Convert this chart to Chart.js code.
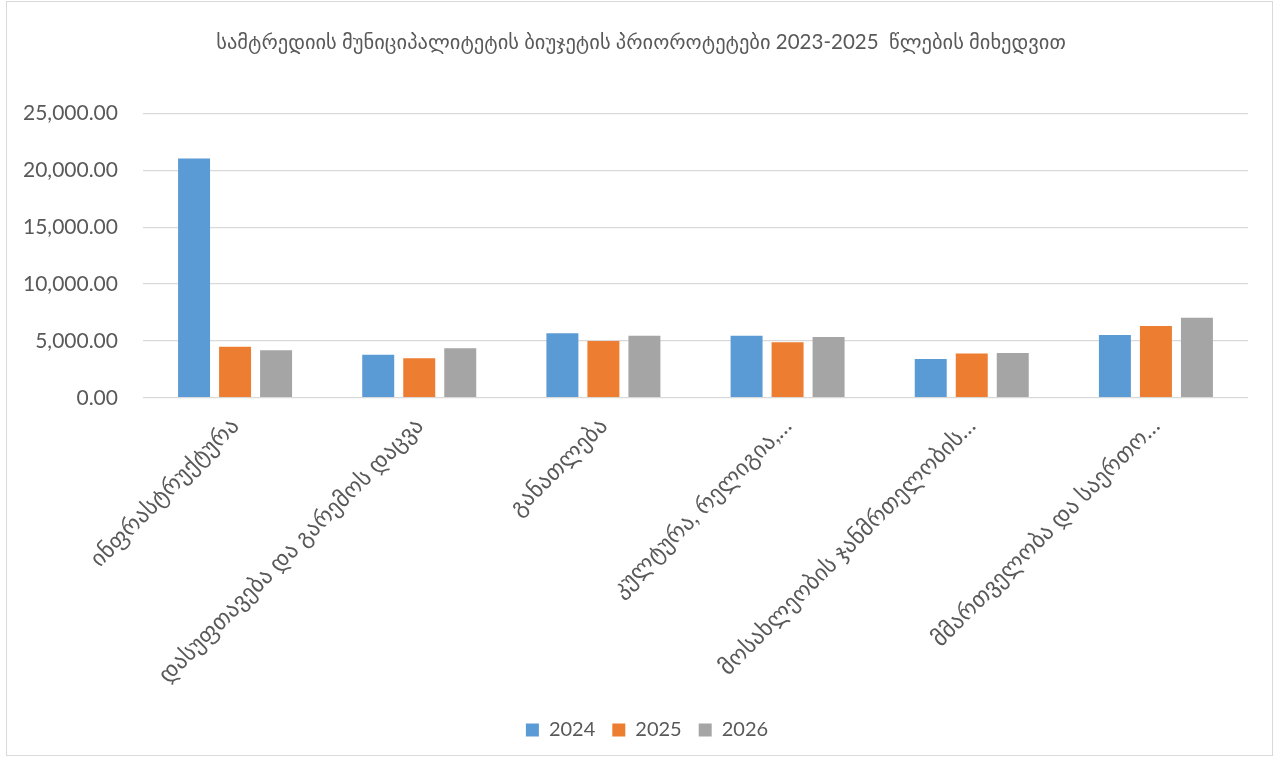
<!DOCTYPE html>
<html>
<head>
<meta charset="utf-8">
<script src="https://cdn.jsdelivr.net/npm/chart.js"></script>
<style>
  html, body { margin: 0; padding: 0; background: #ffffff; }
  #wrap { position: relative; width: 1280px; height: 760px; overflow: hidden; background: #fff; }
  #frame { position: absolute; left: 6px; top: 1px; width: 1267px; height: 755px; border: 1px solid #d9d9d9; box-sizing: border-box; }
  canvas { position: absolute; left: 0; top: 0; }
</style>
</head>
<body>
<div id="wrap">
  <div id="frame"></div>
  <canvas id="c" width="1280" height="760"></canvas>
</div>
<script>
const titleText = 'სამტრედიის მუნიციპალიტეტის ბიუჯეტის პრიოროტეტები 2023-2025  წლების მიხედვით';
const categories = [
  'ინფრასტრუქტურა',
  'დასუფთავება და გარემოს დაცვა',
  'განათლება',
  'კულტურა, რელიგია,…',
  'მოსახლეობის ჯანმრთელობის…',
  'მმართველობა და საერთო…'
];
const seriesNames = ['2024', '2025', '2026'];
const values2024 = [21050, 3790, 5680, 5460, 3400, 5520];
const values2025 = [4480, 3470, 4990, 4880, 3890, 6320];
const values2026 = [4190, 4360, 5460, 5340, 3930, 7050];
const yTicks = [0, 5000, 10000, 15000, 20000, 25000];
const colors = ['#5B9BD5', '#ED7D31', '#A5A5A5'];

const fontFam = "Lato, 'DejaVu Sans', sans-serif";
const textColor = '#595959';

const data = {
  labels: categories,
  datasets: [values2024, values2025, values2026].map((vals, i) => ({
    label: seriesNames[i],
    data: vals,
    backgroundColor: colors[i],
    borderWidth: 0,
    categoryPercentage: 0.668,
    barPercentage: 0.78
  }))
};

// shift the centred title and legend a little to the right, as in the reference
const shiftBoxes = {
  id: 'shiftBoxes',
  afterLayout(chart) {
    if (chart.titleBlock) { chart.titleBlock.left += 18; chart.titleBlock.right += 18; }
    if (chart.legend) { chart.legend.left += 24; chart.legend.right += 24; }
  }
};

new Chart(document.getElementById('c'), {
  type: 'bar',
  data: data,
  plugins: [shiftBoxes],
  options: {
    responsive: false,
    animation: false,
    devicePixelRatio: 1,
    layout: { padding: { left: -2, right: 32, top: 10, bottom: 10 } },
    plugins: {
      title: {
        display: true,
        text: titleText,
        color: textColor,
        font: { family: fontFam, size: 20.5, weight: 'normal' },
        padding: { top: 20, bottom: 59 }
      },
      legend: {
        position: 'bottom',
        labels: {
          color: textColor,
          font: { family: fontFam, size: 20 },
          boxWidth: 13,
          boxHeight: 13,
          padding: 17
        }
      },
      tooltip: { enabled: false }
    },
    scales: {
      x: {
        grid: { display: false, drawTicks: false },
        border: { display: false },
        ticks: {
          color: textColor,
          font: { family: fontFam, size: 23 },
          minRotation: 45,
          maxRotation: 45,
          autoSkip: false,
          padding: 14.5
        }
      },
      y: {
        min: 0,
        max: 25000,
        afterBuildTicks: (axis) => { axis.ticks = yTicks.map(v => ({ value: v })); },
        grid: { color: '#d9d9d9', lineWidth: 1.3, drawTicks: false },
        border: { display: false },
        ticks: {
          color: textColor,
          font: { family: fontFam, size: 21 },
          padding: 25,
          callback: (v) => Number(v).toLocaleString('en-US', { minimumFractionDigits: 2, maximumFractionDigits: 2 })
        }
      }
    }
  }
});
</script>
</body>
</html>
